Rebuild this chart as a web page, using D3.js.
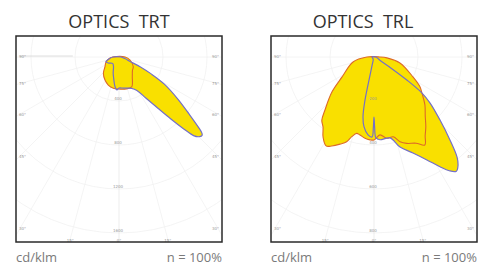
<!DOCTYPE html>
<html><head><meta charset="utf-8">
<script src="https://cdn.jsdelivr.net/npm/d3@7"></script>
<style>body{margin:0;background:#fff}svg{display:block}</style>
</head><body><svg id="c" width="478" height="266"></svg>
<script>
// ---- data ----
const titles = ["OPTICS  TRT", "OPTICS  TRL"];
const unitLabel = "cd/klm";
const ratioLabel = "n = 100%";
const angleTicks = [-90, -75, -60, -45, -30, -15, 0, 15, 30, 45, 60, 75, 90];
const radialTicksTRT = [400, 800, 1200, 1600];
const radialTicksTRL = [200, 400, 600, 800];

// [gamma (deg, + = C0 / C90 side), intensity cd/klm]
const trtC0C180 = [[-90,55],[-80,90],[-70,127],[-60,110],[-45,82],[-30,100],[-20,155],[-14,200],[-7.6,273],[-3.5,300],[0,282],[8,286],[16,294],[22,307],[28.2,345],[33.2,445],[37.2,585],[39.9,735],[42,880],[43.5,985],[45,1025],[46.7,1038],[47.4,1025],[48.5,965],[50.9,820],[54.4,660],[59.1,480],[62.3,330],[65.2,215],[68,109],[75,55],[90,18]];
const trtC90C270 = [[-90,55],[-83.7,82],[-69,126],[-55.3,155],[-43.9,205],[-31.3,245],[-20.9,273],[-10.3,289],[0,291],[12.3,298],[23.2,294],[34,216],[45,173],[55.8,157],[74.7,104],[90,55]];
const trlC0C180 = [[-90,9],[-30,9],[-15,14],[-13,36],[-12.3,91],[-11.8,200],[-10.4,277],[-8.1,321],[-4.4,355],[-1.4,364],[-0.5,318],[0,273],[0.5,318],[1.4,368],[4.1,377],[11.2,375],[16.1,426],[22.1,471],[27.2,526],[31,582],[33.5,620],[35.8,640],[37.9,622],[39.7,591],[42.5,511],[46.3,415],[50.6,330],[53.1,273],[55,182],[57,91],[60,36],[70,18],[90,9]];
const trlC90C270 = [[-90,32],[-76.6,98],[-58,171],[-50.2,249],[-42.8,328],[-39.5,373],[-36,394],[-32.5,431],[-28.3,459],[-25.4,448],[-21.3,425],[-17.9,405],[-15.6,376],[-12.8,356],[-10.2,360],[-6.3,372],[-2.8,377],[0,377],[4.4,355],[8.9,374],[13.6,373],[17.1,403],[20.8,420],[26,436],[30,462],[33,427],[36.6,395],[41,355],[46.7,318],[53,273],[56.9,250],[62.9,199],[77,121],[86,59],[90,27]];

const panels = [
  {title: titles[0], ticks: radialTicksTRT, c0: trtC0C180, c90: trtC90C270, x0: 16, titleX: 119},
  {title: titles[1], ticks: radialTicksTRL, c0: trlC0C180, c90: trlC90C270, x0: 271, titleX: 363}
];

// ---- style ----
const BOX = 206, Y0 = 36, STEP = 44, CYOFF = 21;
const YELLOW = "#f9e000", PURPLE = "#7470c8", ORANGE = "#dc6a28";
const svg = d3.select("#c");
const rad = d => d * Math.PI / 180;

panels.forEach((p, i) => {
  const cx = p.x0 + BOX / 2, cy = Y0 + CYOFF;
  const r = d3.scaleLinear().domain([0, p.ticks[0]]).range([0, STEP]);
  const clipId = "clip" + i;
  svg.append("clipPath").attr("id", clipId).append("rect")
    .attr("x", p.x0).attr("y", Y0).attr("width", BOX).attr("height", BOX);

  // title & footer
  svg.append("text").attr("x", p.titleX).attr("y", 28).attr("text-anchor", "middle")
    .attr("font-family", "Open Sans, sans-serif").attr("font-size", 18).attr("fill", "#333")
    .style("white-space", "pre").text(p.title);
  svg.append("text").attr("x", p.x0).attr("y", 262)
    .attr("font-family", "Open Sans, sans-serif").attr("font-size", 13).attr("fill", "#7a7a7a").text(unitLabel);
  svg.append("text").attr("x", p.x0 + BOX).attr("y", 262).attr("text-anchor", "end")
    .attr("font-family", "Open Sans, sans-serif").attr("font-size", 13).attr("fill", "#7a7a7a").text(ratioLabel);

  const outer = svg.append("g").attr("clip-path", `url(#${clipId})`);
  outer.append("rect").attr("x", p.x0).attr("y", Y0).attr("width", BOX).attr("height", BOX).attr("fill", "#fff");
  const g = outer.append("g").attr("transform", `translate(${cx},${cy})`);

  // circles
  const circTicks = p.ticks.concat([p.ticks[0] * 5, p.ticks[0] * 6]);
  g.selectAll("circle").data(circTicks).join("circle")
    .attr("r", d => r(d)).attr("fill", "none").attr("stroke", "#f1f1f1").attr("stroke-width", 0.8);
  // radial lines
  const rMax = r(p.ticks[0] * 8);
  g.selectAll("line.ray").data(angleTicks).join("line").attr("class", "ray")
    .attr("x1", 0).attr("y1", 0)
    .attr("x2", d => rMax * Math.sin(rad(d))).attr("y2", d => rMax * Math.cos(rad(d)))
    .attr("stroke", d => d === 0 ? "#e8e8e8" : "#f1f1f1").attr("stroke-width", 0.8);
  if (i === 0) {
    g.append("line")
      .attr("x1", -r(p.ticks[0] * 1.05)).attr("x2", -r(p.ticks[0] * 2.25)).attr("y1", -1).attr("y2", -1)
      .attr("stroke", "#d6d6d6").attr("stroke-width", 0.8);
  }

  // curves
  const line = d3.lineRadial()
    .angle(d => rad(180 - d[0])).radius(d => r(d[1]))
    .curve(d3.curveCatmullRomClosed.alpha(0.5));
  [p.c90, p.c0].forEach(s => g.append("path").attr("d", line(s)).attr("fill", YELLOW).attr("stroke", "none"));
  g.append("path").attr("d", line(p.c90)).attr("fill", "none").attr("stroke", ORANGE).attr("stroke-width", 1.1);
  g.append("path").attr("d", line(p.c0)).attr("fill", "none").attr("stroke", PURPLE).attr("stroke-width", 1.2);

  // radial value labels
  g.selectAll("text.val").data(p.ticks).join("text").attr("class", "val")
    .attr("x", -1).attr("y", d => r(d) - 1).attr("text-anchor", "middle")
    .attr("font-family", "DejaVu Sans, sans-serif").attr("font-size", 4).attr("fill", "#999").text(d => d);

  // angle labels on box edges
  const half = BOX / 2, bottom = BOX - CYOFF;
  angleTicks.forEach(a => {
    const s = Math.sin(rad(Math.abs(a))), c = Math.cos(rad(Math.abs(a)));
    const sign = a < 0 ? -1 : 1;
    let x, y, anchor;
    const tSide = s > 1e-6 ? (half - 4) / s : Infinity;
    const tBot = c > 1e-6 ? (bottom - 3) / c : Infinity;
    if (tSide <= tBot) {
      x = sign * (half - 3); y = tSide * c; anchor = a < 0 ? "start" : "end";
      if (Math.abs(a) === 90) y -= 1;
    } else {
      x = sign * tBot * s; y = bottom - 2; anchor = "middle";
    }
    g.append("text").attr("x", x).attr("y", y + 1.5).attr("text-anchor", anchor)
      .attr("font-family", "DejaVu Sans, sans-serif").attr("font-size", 4).attr("fill", "#999")
      .text(Math.abs(a) + "°");
  });

  // frame
  svg.append("rect").attr("x", p.x0).attr("y", Y0).attr("width", BOX).attr("height", BOX)
    .attr("fill", "none").attr("stroke", "#2a2a2a").attr("stroke-width", 1.5);
});
</script></body></html>
